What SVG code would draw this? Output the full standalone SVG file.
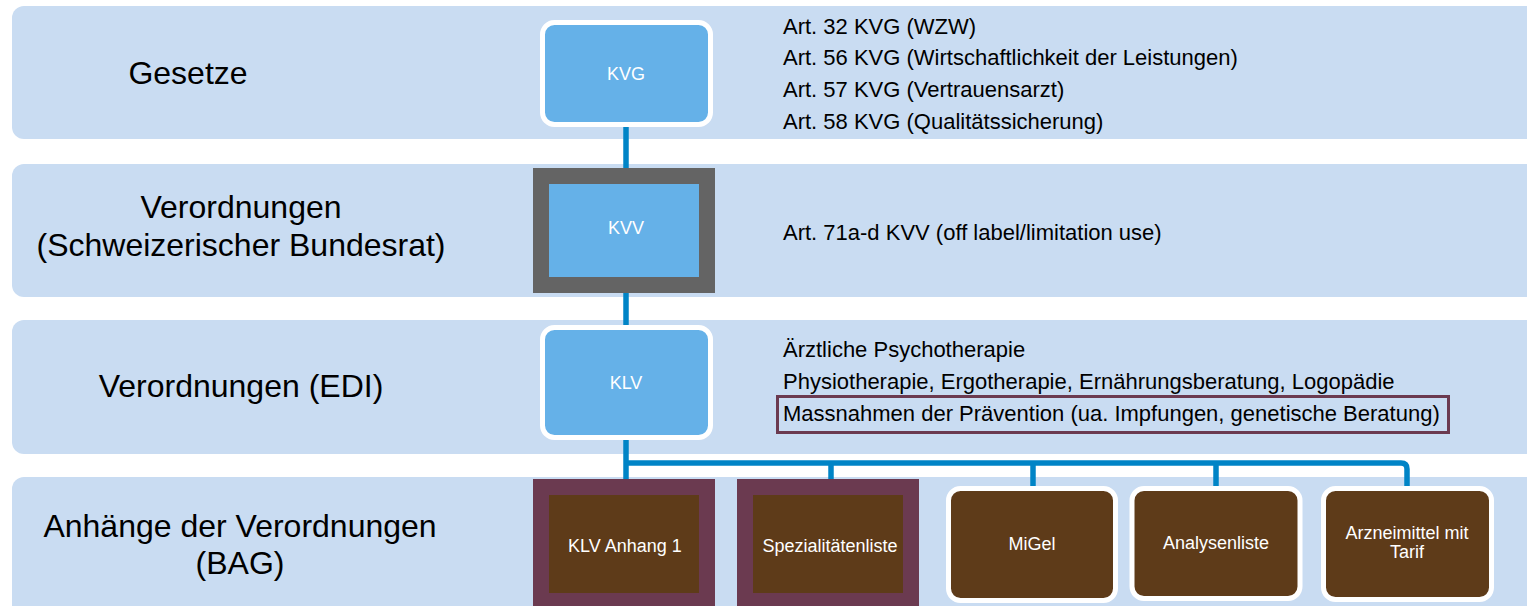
<svg xmlns="http://www.w3.org/2000/svg" width="1527" height="606" viewBox="0 0 1527 606">
<style>
.band{fill:#C9DCF2}
.lbl{font-family:"Liberation Sans",Arial,sans-serif;font-size:32px;fill:#000;text-anchor:middle}
.info{font-family:"Liberation Sans",Arial,sans-serif;font-size:22px;fill:#000}
.nt{font-family:"Liberation Sans",Arial,sans-serif;font-size:18px;fill:#FFFFFF;text-anchor:middle}
.blueW{fill:#65B1E8;stroke:#FFFFFF;stroke-width:5}
.blueG{fill:#65B1E8;stroke:#646464;stroke-width:16}
.brownW{fill:#5E3B19;stroke:#FFFFFF;stroke-width:5}
.brownP{fill:#5E3B19;stroke:#6B3A50;stroke-width:16}
.conn{fill:none;stroke:#0084C6;stroke-width:5.5}
</style>
<g id="bands">
<rect class="band" x="12" y="6" width="1530" height="133" rx="12"/>
<rect class="band" x="12" y="164" width="1530" height="133" rx="12"/>
<rect class="band" x="12" y="320" width="1530" height="134" rx="12"/>
<rect class="band" x="12" y="477" width="1530" height="145" rx="12"/>
</g>
<g id="labels">
<text class="lbl" x="188" y="84">Gesetze</text>
<text class="lbl" x="241" y="218">Verordnungen</text>
<text class="lbl" x="241" y="256">(Schweizerischer Bundesrat)</text>
<text class="lbl" x="241" y="397">Verordnungen (EDI)</text>
<text class="lbl" x="240" y="537">Anhänge der Verordnungen</text>
<text class="lbl" x="240" y="574">(BAG)</text>
</g>
<g id="info">
<text class="info" x="783" y="34">Art. 32 KVG (WZW)</text>
<text class="info" x="783" y="65">Art. 56 KVG (Wirtschaftlichkeit der Leistungen)</text>
<text class="info" x="783" y="97">Art. 57 KVG (Vertrauensarzt)</text>
<text class="info" x="783" y="129">Art. 58 KVG (Qualitätssicherung)</text>
<text class="info" x="783" y="240">Art. 71a-d KVV (off label/limitation use)</text>
<text class="info" x="783" y="357">Ärztliche Psychotherapie</text>
<text class="info" x="783" y="389">Physiotherapie, Ergotherapie, Ernährungsberatung, Logopädie</text>
<rect x="777.5" y="396.5" width="671" height="36" fill="none" stroke="#6B3A50" stroke-width="3"/>
<text class="info" x="783" y="421">Massnahmen der Prävention (ua. Impfungen, genetische Beratung)</text>
</g>
<g id="connectors">
<path class="conn" d="M626,125 V482"/>
<path class="conn" d="M626,463 H1401 Q1407,463 1407,469 V489"/>
<path class="conn" d="M831,463 V481"/>
<path class="conn" d="M1033,463 V489"/>
<path class="conn" d="M1216,463 V489"/>
</g>
<g id="node-kvg">
<rect class="blueW" x="542.5" y="22.5" width="168" height="102" rx="12"/>
<text class="nt" x="626" y="80">KVG</text>
</g>
<g id="node-kvv">
<rect class="blueG" x="541" y="176" width="166" height="109"/>
<text class="nt" x="626" y="234">KVV</text>
</g>
<g id="node-klv">
<rect class="blueW" x="542.5" y="327.5" width="168" height="110" rx="12"/>
<text class="nt" x="626" y="389">KLV</text>
</g>
<g id="node-klv-anhang">
<rect class="brownP" x="541" y="487" width="166" height="114"/>
<text class="nt" x="625" y="552">KLV Anhang 1</text>
</g>
<g id="node-sl">
<rect class="brownP" x="745" y="487" width="166" height="114"/>
<text class="nt" x="830" y="552">Spezialitätenliste</text>
</g>
<g id="node-migel">
<rect class="brownW" x="948.5" y="488.5" width="167" height="112" rx="12"/>
<text class="nt" x="1032" y="550">MiGel</text>
</g>
<g id="node-analysen">
<rect class="brownW" x="1132" y="488.5" width="168" height="110" rx="12"/>
<text class="nt" x="1216" y="549">Analysenliste</text>
</g>
<g id="node-arznei">
<rect class="brownW" x="1323.5" y="488.5" width="168" height="111" rx="12"/>
<text class="nt" x="1407" y="539">Arzneimittel mit</text>
<text class="nt" x="1407" y="558">Tarif</text>
</g>
</svg>
